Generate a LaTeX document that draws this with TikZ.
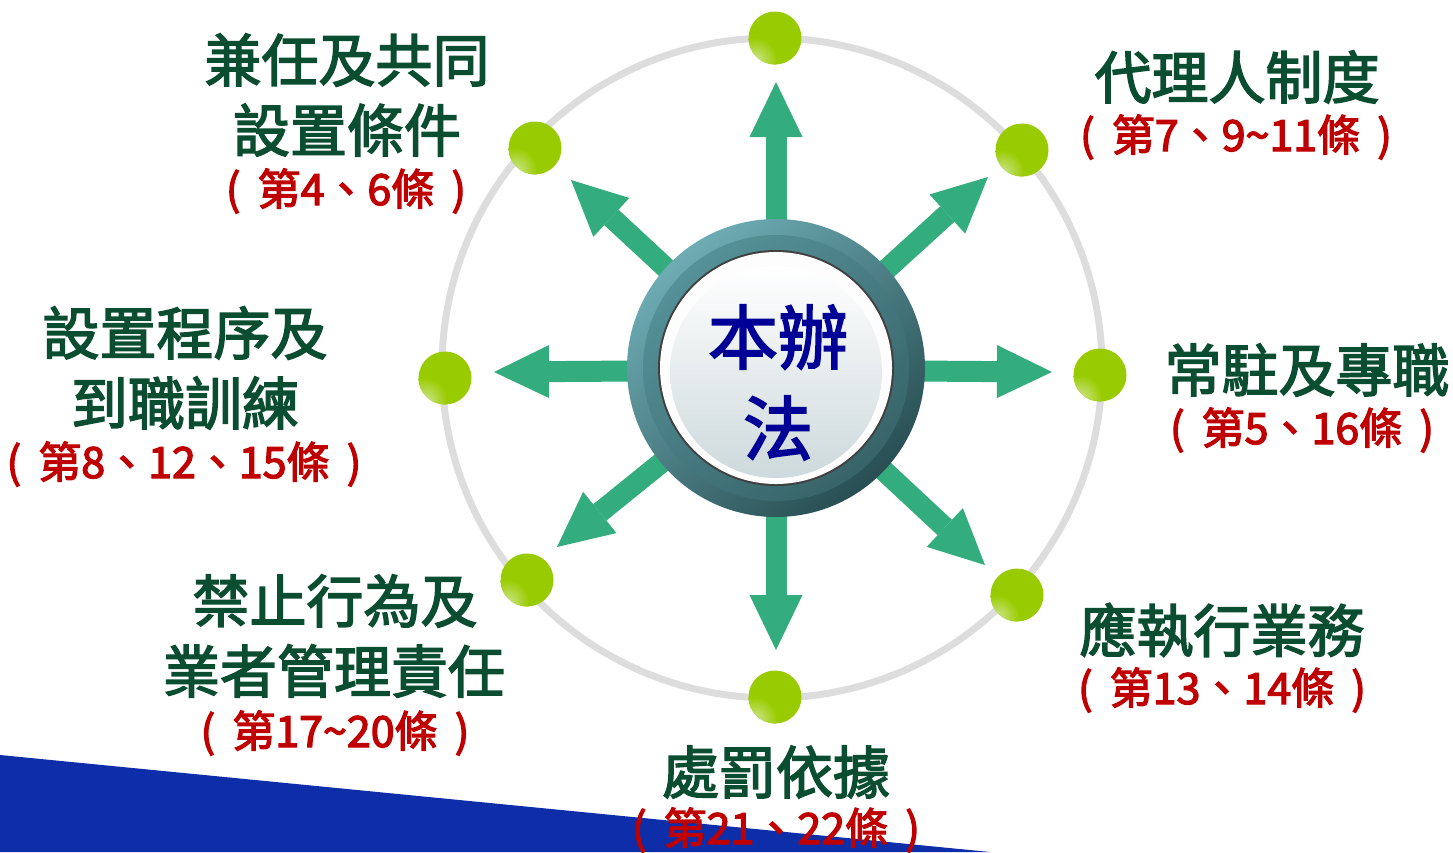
\documentclass[tikz,border=0pt]{standalone}
\usepackage{fontspec}
\newfontfamily\cjk{Noto Sans CJK TC}[FakeBold=2.6]
\newfontfamily\cjkr{Noto Sans CJK TC}[FakeBold=3]
\usetikzlibrary{arrows.meta}
\definecolor{tgreen}{RGB}{11,77,48}
\definecolor{tred}{RGB}{192,0,0}
\definecolor{tblue}{RGB}{0,0,150}
\definecolor{arrowg}{RGB}{52,173,126}
\definecolor{lime}{RGB}{153,204,0}
\definecolor{limel}{RGB}{205,228,140}
\definecolor{ringg}{RGB}{221,221,221}
\definecolor{bandblue}{RGB}{14,45,168}
\definecolor{tealL}{RGB}{110,172,180}
\definecolor{tealD}{RGB}{40,78,82}
\definecolor{tealM}{RGB}{85,145,152}
\definecolor{tealMD}{RGB}{55,100,105}
\definecolor{diskg}{RGB}{205,217,220}
\newcommand\artref[1]{(\hspace{0.4em}#1\hspace{0.4em})}
\begin{document}
\begin{tikzpicture}[x=1pt,y=-1pt,
  gtext/.style={font=\cjk\fontsize{57}{60}\selectfont, text=tgreen, inner sep=0pt},
  rtext/.style={font=\cjkr\fontsize{43}{46}\selectfont, text=tred, inner sep=0pt},
  ctext/.style={font=\cjk\fontsize{70}{74}\selectfont, text=tblue, inner sep=0pt},
  dotnode/.style={circle, minimum size=53pt, inner sep=0pt, fill=lime},
  spoke/.style={line width=21pt, draw=arrowg, -{Triangle[width=53pt,length=55pt,line width=0pt,fill=arrowg]}}]
\useasboundingbox (0,0) rectangle (1453,852);
\fill[white] (0,0) rectangle (1453,852);
% blue band
\fill[bandblue] (0,755) -- (990,852) -- (0,852) -- cycle;
% ring
\draw[ringg, line width=7pt] (772,368) circle[radius=330];
% center and arrow tips
\coordinate (c) at (776,370);
\coordinate (t1) at (776,82);
\coordinate (t2) at (988,177);
\coordinate (t3) at (1052,372);
\coordinate (t4) at (985,565);
\coordinate (t5) at (776,650);
\coordinate (t6) at (557,547);
\coordinate (t7) at (494,372);
\coordinate (t8) at (571,180);
\foreach \t in {t1,t2,t3,t4,t5,t6,t7,t8}{
  \draw[spoke] (c) -- (\t);
}
% center disc
\shade[top color=tealL, bottom color=tealD, shading angle=40] (776,368) circle[radius=149];
\shade[top color=tealM, bottom color=tealMD, shading angle=40] (776,368) circle[radius=133];
\fill[black!75] (776,368) circle[radius=118];
\fill[white!96!diskg] (776,368) circle[radius=116];
\shade[top color=white, bottom color=diskg] (776,372) circle[radius=106];
\node[ctext] (ct1) at (778,337) {本辦};
\node[ctext] (ct2) at (778,428) {法};
% dots
\foreach \n/\x/\y in {d1/775/38, d2/1022/150, d3/1100/375, d4/1017/595, d5/775/697, d6/527/580, d7/445/378, d8/535/148}{
  \node[dotnode] (\n) at (\x,\y) {};
  \begin{scope}
    \clip (\x,\y) circle[radius=26.5];
    \shade[inner color=limel, outer color=lime] (\x-20,\y+22) circle[radius=22];
  \end{scope}
}
% texts
\node[gtext] (a1) at (347,60) {兼任及共同};
\node[gtext] (a2) at (347,130) {設置條件};
\node[rtext] (a3) at (346,191) {\artref{第4、6條}};
\node[gtext] (b1) at (1237,77) {代理人制度};
\node[rtext] (b2) at (1236,137) {\artref{第7、9\textasciitilde 11條}};
\node[gtext] (e1) at (1307,370) {常駐及專職};
\node[rtext] (e2) at (1302,430) {\artref{第5、16條}};
\node[gtext] (f1) at (185,333) {設置程序及};
\node[gtext] (f2) at (185,403) {到職訓練};
\node[rtext] (f3) at (184,464) {\artref{第8、12、15條}};
\node[gtext] (g1) at (335,601) {禁止行為及};
\node[gtext] (g2) at (334,671) {業者管理責任};
\node[rtext] (g3) at (335,733) {\artref{第17\textasciitilde 20條}};
\node[gtext] (h1) at (1222,630) {應執行業務};
\node[rtext] (h2) at (1222,690) {\artref{第13、14條}};
\node[gtext] (k1) at (776,772) {處罰依據};
\node[rtext] (k2) at (776,830) {\artref{第21、22條}};
\end{tikzpicture}
\end{document}
